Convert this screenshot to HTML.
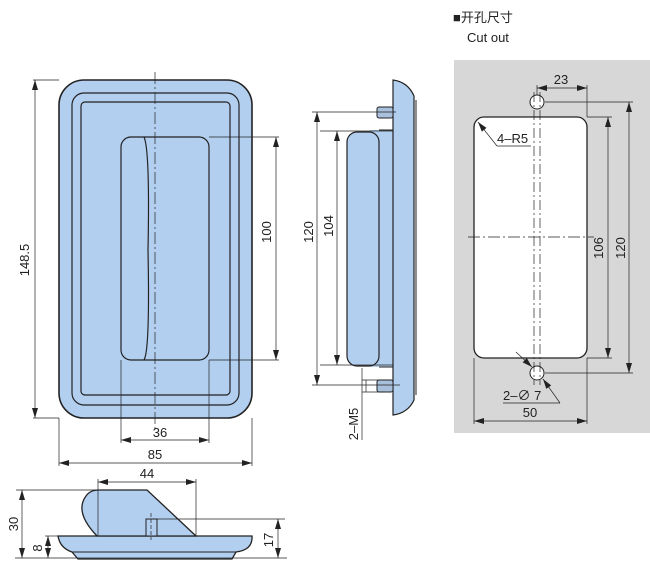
<!DOCTYPE html>
<html><head><meta charset="utf-8"><style>
body{margin:0;background:#fff}
svg{display:block}
text{font-family:"Liberation Sans","Noto Sans CJK SC",sans-serif;font-size:13px;fill:#222}
</style></head><body>
<svg width="650" height="574" viewBox="0 0 650 574" xmlns="http://www.w3.org/2000/svg">
<defs>
<marker id="a" viewBox="0 0 10 6" refX="10" refY="3" markerWidth="10" markerHeight="6" orient="auto-start-reverse" markerUnits="userSpaceOnUse"><path d="M0,0 L10,3 L0,6z" fill="#222"/></marker>
</defs>
<g stroke="#222" stroke-width="0.7" fill="none">
<!-- front view -->
<rect x="59" y="80" width="193" height="338" rx="25" fill="#b3cff0" stroke-width="1.6"/>
<rect x="72" y="93" width="167" height="312" rx="12" stroke-width="1.2"/>
<rect x="81" y="102" width="149" height="293" rx="4" stroke-width="1.2"/>
<rect x="121" y="137" width="88" height="223" rx="10" stroke-width="1.2"/>
<path d="M144,137 Q150,150 148,250 Q150,350 144,360" stroke-width="1.2"/>
<line x1="155" y1="72" x2="155" y2="430" stroke-dasharray="12,3,2,3"/>
<line x1="33" y1="80" x2="59" y2="80"/><line x1="33" y1="418" x2="59" y2="418"/>
<line x1="35" y1="80" x2="35" y2="418" marker-start="url(#a)" marker-end="url(#a)"/>
<line x1="209" y1="137" x2="279" y2="137"/><line x1="209" y1="360" x2="279" y2="360"/>
<line x1="276" y1="137" x2="276" y2="360" marker-start="url(#a)" marker-end="url(#a)"/>
<line x1="121" y1="360" x2="121" y2="443"/><line x1="209" y1="360" x2="209" y2="443"/>
<line x1="121" y1="440" x2="209" y2="440" marker-start="url(#a)" marker-end="url(#a)"/>
<line x1="59" y1="418" x2="59" y2="466"/><line x1="252" y1="418" x2="252" y2="466"/>
<line x1="59" y1="463" x2="252" y2="463" marker-start="url(#a)" marker-end="url(#a)"/>
<!-- side view -->
<line x1="416" y1="100" x2="416" y2="395" stroke-width="1"/>
<rect x="370" y="130" width="25" height="237" fill="#b3cff0" stroke="none"/>
<path d="M393,80 Q408,82 414,96 L414,400 Q408,413 393,415 Z" fill="#b3cff0" stroke-width="1.2"/>
<rect x="347" y="132" width="32" height="234" rx="10" fill="#b3cff0" stroke-width="1.2"/>
<line x1="379" y1="130" x2="393" y2="130" stroke-width="1"/><line x1="379" y1="367" x2="393" y2="367" stroke-width="1"/>
<rect x="377" y="107" width="16" height="11" rx="2" fill="#a9c0dc" stroke-width="1"/>
<rect x="377" y="380" width="16" height="12" rx="2" fill="#a9c0dc" stroke-width="1"/>
<line x1="312" y1="112" x2="396" y2="112"/><line x1="312" y1="385" x2="400" y2="385"/>
<line x1="317" y1="112" x2="317" y2="385" marker-start="url(#a)" marker-end="url(#a)"/>
<line x1="320" y1="131" x2="393" y2="131"/><line x1="320" y1="365" x2="393" y2="365"/>
<line x1="337" y1="131" x2="337" y2="365" marker-start="url(#a)" marker-end="url(#a)"/>
<line x1="362" y1="368" x2="362" y2="440"/><line x1="366" y1="380" x2="366" y2="392"/>
<line x1="362" y1="380" x2="385" y2="380"/><line x1="362" y1="392" x2="385" y2="392"/>
<!-- cutout -->
<rect x="454" y="60" width="196" height="373" fill="#d7d7d7" stroke="none"/>
<rect x="474" y="117" width="113" height="241" rx="10" fill="#fff" stroke-width="1.3"/>
<circle cx="537" cy="102" r="7" fill="#fff" stroke-width="1"/>
<circle cx="537" cy="373" r="7" fill="#fff" stroke-width="1"/>
<line x1="534" y1="92" x2="534" y2="385" stroke-dasharray="10,3,2,3"/>
<line x1="540" y1="92" x2="540" y2="385" stroke-dasharray="10,3,2,3"/>
<line x1="468" y1="237" x2="594" y2="237" stroke-dasharray="12,3,2,3"/>
<line x1="537" y1="85" x2="537" y2="95"/><line x1="587" y1="85" x2="587" y2="117"/>
<line x1="537" y1="88" x2="587" y2="88" marker-start="url(#a)" marker-end="url(#a)"/>
<line x1="545" y1="102" x2="633" y2="102"/><line x1="545" y1="373" x2="633" y2="373"/>
<line x1="629" y1="102" x2="629" y2="373" marker-start="url(#a)" marker-end="url(#a)"/>
<line x1="587" y1="117" x2="612" y2="117"/><line x1="587" y1="358" x2="612" y2="358"/>
<line x1="608" y1="117" x2="608" y2="358" marker-start="url(#a)" marker-end="url(#a)"/>
<line x1="474" y1="358" x2="474" y2="424"/><line x1="587" y1="358" x2="587" y2="424"/>
<line x1="474" y1="421" x2="587" y2="421" marker-start="url(#a)" marker-end="url(#a)"/>
<polyline points="497,146 531,146"/><line x1="497" y1="146" x2="478" y2="122" marker-end="url(#a)"/>
<line x1="516" y1="352" x2="532" y2="367" marker-end="url(#a)"/>
<line x1="560" y1="403" x2="543" y2="379" marker-end="url(#a)"/>
<line x1="503" y1="403" x2="560" y2="403"/>
<!-- bottom view -->
<path d="M58,536 L252,536 Q253,550 236,552 L232,559 L78,559 L72,552 Q60,548 58,536z" fill="#b3cff0" stroke-width="1.3"/>
<line x1="72" y1="552" x2="236" y2="552" stroke-width="1"/>
<path d="M97,536 Q74,512 86,496 Q90,490 99,490 L147,490 L196,536z" fill="#b3cff0" stroke-width="1.3"/>
<rect x="146" y="519" width="11" height="17" fill="#b3cff0" stroke-width="1"/>
<line x1="151" y1="513" x2="151" y2="540" stroke-dasharray="4,2"/>
<line x1="98" y1="479" x2="98" y2="536"/><line x1="196" y1="479" x2="196" y2="536"/>
<line x1="98" y1="482" x2="196" y2="482" marker-start="url(#a)" marker-end="url(#a)"/>
<line x1="16" y1="490" x2="98" y2="490"/><line x1="15" y1="558" x2="287" y2="558"/>
<line x1="22" y1="490" x2="22" y2="558" marker-start="url(#a)" marker-end="url(#a)"/>
<line x1="45" y1="536" x2="58" y2="536"/>
<line x1="48" y1="536" x2="48" y2="558" marker-start="url(#a)" marker-end="url(#a)"/>
<line x1="157" y1="519" x2="285" y2="519"/>
<line x1="278" y1="519" x2="278" y2="558" marker-start="url(#a)" marker-end="url(#a)"/>
</g>
<text x="29" y="260" text-anchor="middle" transform="rotate(-90 29 260)" font-size="14">148.5</text>
<text x="271" y="232" text-anchor="middle" transform="rotate(-90 271 232)" font-size="14">100</text>
<text x="160" y="437" text-anchor="middle" font-size="14">36</text>
<text x="155" y="459" text-anchor="middle" font-size="14">85</text>
<text x="313" y="232" text-anchor="middle" transform="rotate(-90 313 232)" font-size="14">120</text>
<text x="333" y="226" text-anchor="middle" transform="rotate(-90 333 226)" font-size="14">104</text>
<text x="358" y="424" text-anchor="middle" transform="rotate(-90 358 424)" font-size="14">2–M5</text>
<text x="453" y="22" font-size="14">■开孔尺寸</text>
<text x="467" y="42" font-size="14">Cut out</text>
<text x="561" y="84" text-anchor="middle" font-size="14">23</text>
<text x="497" y="143" font-size="14">4–R5</text>
<text x="603" y="248" text-anchor="middle" transform="rotate(-90 603 248)" font-size="14">106</text>
<text x="625" y="248" text-anchor="middle" transform="rotate(-90 625 248)" font-size="14">120</text>
<text x="503" y="400" font-size="14">2–∅ 7</text>
<text x="530" y="417" text-anchor="middle" font-size="14">50</text>
<text x="147" y="478" text-anchor="middle" font-size="14">44</text>
<text x="18" y="524" text-anchor="middle" transform="rotate(-90 18 524)" font-size="14">30</text>
<text x="42" y="548" text-anchor="middle" transform="rotate(-90 42 548)" font-size="14">8</text>
<text x="273" y="540" text-anchor="middle" transform="rotate(-90 273 540)" font-size="14">17</text>
</svg>
</body></html>
